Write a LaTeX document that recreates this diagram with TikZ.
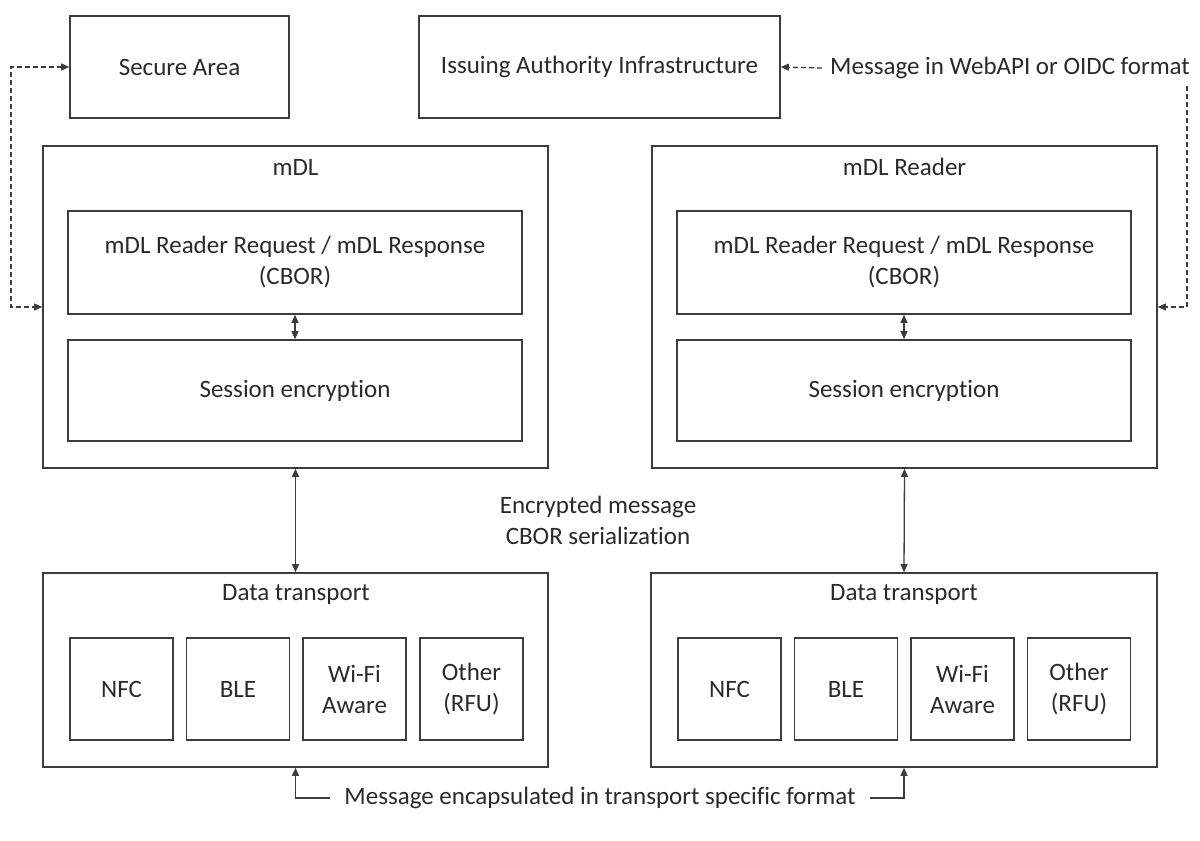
\documentclass[tikz,border=0pt]{standalone}
\usepackage{fontspec}
\setmainfont{Carlito}[Ligatures={NoCommon,NoRare,NoDiscretionary}]
\usetikzlibrary{arrows.meta}
\definecolor{ln}{HTML}{3C3C3C}
\definecolor{tx}{HTML}{2A2A2A}
\tikzset{
  box/.style={draw=ln, line width=1.6pt, inner sep=0pt, text=tx, align=center, font=\fontsize{25}{31}\selectfont},
  lbl/.style={inner sep=0pt, text=tx, align=center, font=\fontsize{25}{31}\selectfont},
  conn/.style={draw=ln, line width=1.3pt, -{Triangle[length=8pt,width=7pt]}},
  dconn/.style={draw=ln, line width=1.3pt, {Triangle[length=8pt,width=7pt]}-{Triangle[length=8pt,width=7pt]}},
  dashedline/.style={dash pattern=on 5pt off 3pt}
}
\begin{document}
\begin{tikzpicture}[x=1pt,y=-1pt]
\useasboundingbox[fill=white] (0,0) rectangle (1200,841);
% top boxes
\node[box, minimum width=219, minimum height=102] (sa) at (179.5,67) {Secure Area};
\node[box, minimum width=361, minimum height=102] (ia) at (599.5,67) {Issuing Authority Infrastructure};
\node[lbl, anchor=west, inner xsep=8pt] (msg) at (822,68) {Message in WebAPI or OIDC format};
% mDL
\node[box, minimum width=505, minimum height=322] (mdl) at (295.5,307) {};
\node[lbl] (mdlt) at (295.5,167) {mDL};
\node[box, minimum width=454, minimum height=103] (req1) at (295,262.5) {mDL Reader Request / mDL Response\\(CBOR)};
\node[box, minimum width=454, minimum height=101] (ses1) at (295,390.5) {Session encryption};
% mDL Reader
\node[box, minimum width=505, minimum height=322] (rdr) at (904.5,307) {};
\node[lbl] (rdrt) at (904.5,167) {mDL Reader};
\node[box, minimum width=454, minimum height=103] (req2) at (904,262.5) {mDL Reader Request / mDL Response\\(CBOR)};
\node[box, minimum width=454, minimum height=101] (ses2) at (904,390.5) {Session encryption};
% middle label
\node[lbl] (enc) at (598,520) {Encrypted message\\CBOR serialization};
% data transport
\node[box, minimum width=505, minimum height=194] (dt1) at (295.5,670) {};
\node[lbl] (dt1t) at (296,594) {Data transport};
\node[box, minimum width=103, minimum height=102] (nfc1) at (121.5,689) {NFC};
\node[box, minimum width=103, minimum height=102] (ble1) at (238,689) {BLE};
\node[box, minimum width=103, minimum height=102] (wifi1) at (354.5,689) {Wi-Fi\\Aware};
\node[box, minimum width=103, minimum height=102] (oth1) at (471.5,689) {Other\\(RFU)};
\node[box, minimum width=506, minimum height=194] (dt2) at (904,670) {};
\node[lbl] (dt2t) at (904,594) {Data transport};
\node[box, minimum width=103, minimum height=102] (nfc2) at (729.5,689) {NFC};
\node[box, minimum width=103, minimum height=102] (ble2) at (846,689) {BLE};
\node[box, minimum width=103, minimum height=102] (wifi2) at (962.5,689) {Wi-Fi\\Aware};
\node[box, minimum width=103, minimum height=102] (oth2) at (1079,689) {Other\\(RFU)};
\node[lbl, inner xsep=14pt] (bmsg) at (600,798) {Message encapsulated in transport specific format};
% connectors
\coordinate (lbend) at (11,307);
\draw[dconn, dashedline] (sa.west) -| (lbend) -- (mdl.west);
\draw[conn, dashedline] (msg.west) -- (ia.east);
\coordinate (rtop) at (1187,86);
\draw[conn, dashedline] (rtop) |- (rdr.east);
\draw[dconn] (req1.south) -- (ses1.north);
\draw[dconn] (req2.south) -- (ses2.north);
\draw[dconn] (mdl.south) -- (dt1.north);
\draw[dconn] (rdr.south) -- (dt2.north);
\draw[conn] (bmsg.west) -| (dt1.south);
\draw[conn] (bmsg.east) -| (dt2.south);
\end{tikzpicture}
\end{document}
